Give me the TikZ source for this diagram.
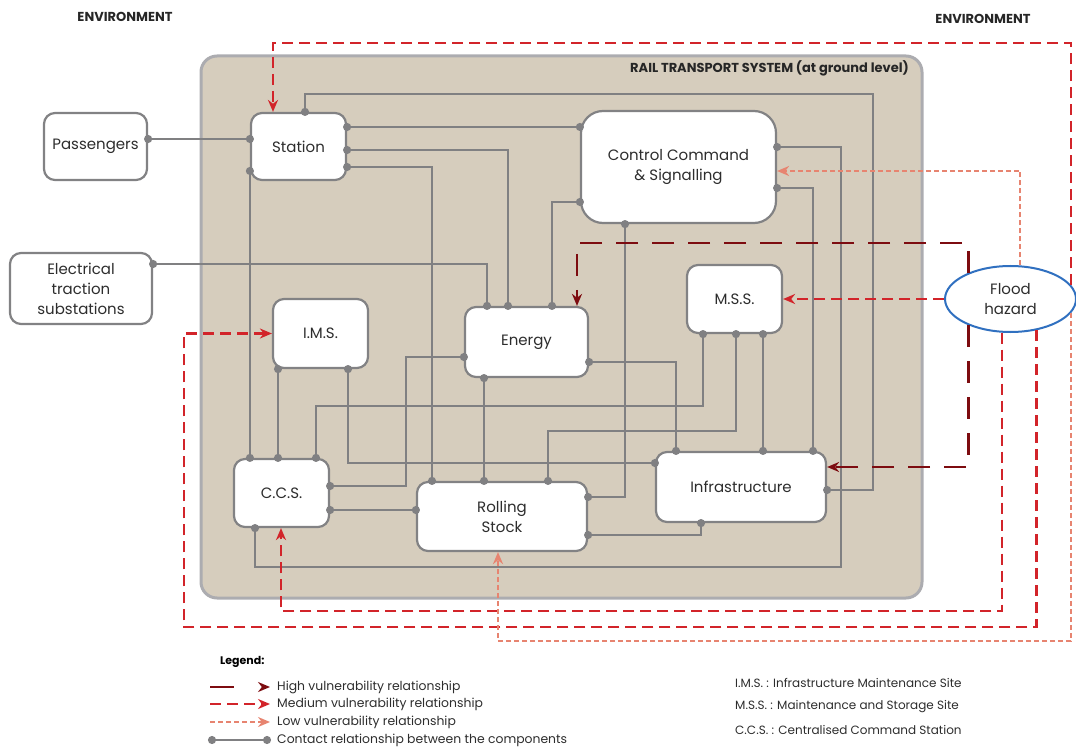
\documentclass[tikz,border=0pt]{standalone}
\usepackage{fontspec}
\setmainfont{Poppins}
\usetikzlibrary{arrows.meta,positioning,shapes.geometric}
\definecolor{railbg}{RGB}{214,205,189}
\definecolor{railedge}{RGB}{172,172,176}
\definecolor{boxedge}{RGB}{130,130,132}
\definecolor{contact}{RGB}{128,128,130}
\definecolor{txt}{RGB}{45,45,45}
\definecolor{vulnhigh}{RGB}{125,12,16}
\definecolor{vulnmed}{RGB}{210,36,42}
\definecolor{vulnlow}{RGB}{231,132,112}
\definecolor{floodedge}{RGB}{48,112,192}

\begin{document}
\begin{tikzpicture}[x=1pt,y=-1pt]
	\tikzstyle{every node}=[font=\fontsize{15}{20}\selectfont,text=txt];
	\tikzstyle{comp}=[draw=boxedge,line width=2.2pt,fill=white,rectangle,rounded corners=11pt,align=center,inner sep=0pt];
	\tikzstyle{lbl}=[font=\fontsize{13}{15}\selectfont\bfseries,text=black!85,inner sep=0pt];
	\tikzstyle{legtxt}=[anchor=west,inner sep=0pt,font=\fontsize{12.4}{14}\selectfont];
	\tikzstyle{abbr}=[anchor=west,inner sep=0pt,font=\fontsize{12}{14}\selectfont];
	\tikzstyle{con}=[draw=contact,line width=2pt,{Circle[length=8pt]}-{Circle[length=8pt]},shorten <=-4pt,shorten >=-4pt];
	\tikzstyle{high}=[draw=vulnhigh,line width=2.5pt,dash pattern=on 22pt off 14pt,-{Stealth[length=12pt,width=10pt]}];
	\tikzstyle{med}=[draw=vulnmed,line width=2.5pt,dash pattern=on 11pt off 6pt,-{Stealth[length=12pt,width=10pt]}];
	\tikzstyle{low}=[draw=vulnlow,line width=2pt,dash pattern=on 5pt off 3pt,-{Stealth[length=12pt,width=10pt]}];
	\useasboundingbox (0,0) rectangle (1076,751);

	\node (rail) [draw=railedge,line width=3pt,fill=railbg,rounded corners=16pt,minimum width=721pt,minimum height=542pt,inner sep=0pt] at (561.5,327) {};
	\node (rail_title) [lbl,anchor=east] at (909,68) {RAIL TRANSPORT SYSTEM (at ground level)};
	\node (env_left) [lbl] at (125,17) {ENVIRONMENT};
	\node (env_right) [lbl] at (983,19) {ENVIRONMENT};

	\node (passengers) [comp,minimum width=103pt,minimum height=67pt] at (95.5,146.5) {Passengers};
	\node (station) [comp,minimum width=95pt,minimum height=67pt] at (298.5,146.5) {Station};
	\node (ctrl) [comp,rounded corners=22pt,minimum width=195pt,minimum height=112pt] at (678.5,167) {Control Command\\\& Signalling};
	\node (ets) [comp,minimum width=142pt,minimum height=71pt] at (81,288.5) {Electrical\\traction\\substations};
	\node (ims) [comp,minimum width=95pt,minimum height=69pt] at (320.5,333.5) {I.M.S.};
	\node (energy) [comp,minimum width=123pt,minimum height=70pt] at (526.5,342) {Energy};
	\node (mss) [comp,minimum width=95pt,minimum height=68pt] at (734.5,299) {M.S.S.};
	\node (ccs) [comp,minimum width=95pt,minimum height=68pt] at (281.5,493) {C.C.S.};
	\node (rolling) [comp,minimum width=170pt,minimum height=69pt] at (502,516.5) {Rolling\\Stock};
	\node (infra) [comp,minimum width=170pt,minimum height=70pt] at (741,487) {Infrastructure};
	\node (flood) [ellipse,draw=floodedge,line width=2pt,fill=white,minimum width=131pt,minimum height=66pt,inner sep=0pt,align=center] at (1010.5,299) {Flood\\hazard};

	\draw[con] (passengers.east |- 0,139) -- (station.west |- 0,139);
	\draw[con] (305,0 |- station.north) |- (873,94) |- (infra.east |- 0,490);
	\draw[con] (station.east |- 0,127) -- (ctrl.west |- 0,127);
	\draw[con] (station.east |- 0,150) -| (508,0 |- energy.north);
	\draw[con] (station.east |- 0,167) -| (432,0 |- rolling.north);
	\draw[con] (station.west |- 0,171) -- (station.west |- ccs.north);
	\draw[con] (ets.east |- 0,264) -| (487,0 |- energy.north);
	\draw[con] (ctrl.west |- 0,202) -| (552,0 |- energy.north);
	\draw[con] (625,0 |- ctrl.south) |- (rolling.east |- 0,497);
	\draw[con] (ctrl.east |- 0,147) -| (841,567) -| (255,0 |- ccs.south);
	\draw[con] (ctrl.east |- 0,188) -| (813,0 |- infra.north);
	\draw[con] (energy.west |- 0,357) -| (406,486) -- (ccs.east |- 0,486);
	\draw[con] (484,0 |- energy.south) -- (484,0 |- rolling.north);
	\draw[con] (energy.east |- 0,362) -| (676,0 |- infra.north);
	\draw[con] (278,0 |- ims.south) -- (278,0 |- ccs.north);
	\draw[con] (348,0 |- ims.south) |- (infra.west |- 0,463);
	\draw[con] (316,0 |- ccs.north) |- (703,406) -- (703,0 |- mss.south);
	\draw[con] (ccs.east |- 0,510) -- (rolling.west |- 0,510);
	\draw[con] (548,0 |- rolling.north) |- (736,431) -- (736,0 |- mss.south);
	\draw[con] (rolling.east |- 0,535) -| (701,0 |- infra.south);
	\draw[con] (763,0 |- mss.south) -- (763,0 |- infra.north);

	\draw[med] (flood.13) |- (273,43) -- (273,0 |- station.north);
	\draw[med] (flood.west) -- (mss.east);
	\draw[med] (flood.256) |- (281,611) -- (281,0 |- ccs.south);
	\draw[med] (flood.310) |- (184,627) |- (ims.west);
	\draw[low] (flood.347) |- (498,641) -- (498,0 |- rolling.south);
	\draw[low] (flood.74) |- (ctrl.east |- 0,171);
	\draw[high] (flood.148) |- (577,243) -- (577,0 |- energy.north);
	\draw[high] (flood.212) |- (infra.east |- 0,467);

	\node (legend_title) [anchor=west,inner sep=0pt,font=\fontsize{11}{13}\selectfont\bfseries,text=black] at (220,662) {Legend:};
	\node (leg_high) [legtxt] at (277,687) {High vulnerability relationship};
	\node (leg_med) [legtxt] at (277,704) {Medium vulnerability relationship};
	\node (leg_low) [legtxt] at (277,722) {Low vulnerability relationship};
	\node (leg_con) [legtxt] at (277,740) {Contact relationship between the components};
	\draw[high,dash pattern=on 24pt off 30pt] ([xshift=-67pt]leg_high.west) -- ([xshift=-7pt]leg_high.west);
	\draw[med] ([xshift=-67pt]leg_med.west) -- ([xshift=-7pt]leg_med.west);
	\draw[low] ([xshift=-67pt]leg_low.west) -- ([xshift=-7pt]leg_low.west);
	\draw[con] ([xshift=-65pt]leg_con.west) -- ([xshift=-10pt]leg_con.west);

	\node (abbr_ims) [abbr] at (735,683) {I.M.S. : Infrastructure Maintenance Site};
	\node (abbr_mss) [abbr] at (735,707) {M.S.S. : Maintenance and Storage Site};
	\node (abbr_ccs) [abbr] at (735,730) {C.C.S. : Centralised Command Station};
\end{tikzpicture}
\end{document}
